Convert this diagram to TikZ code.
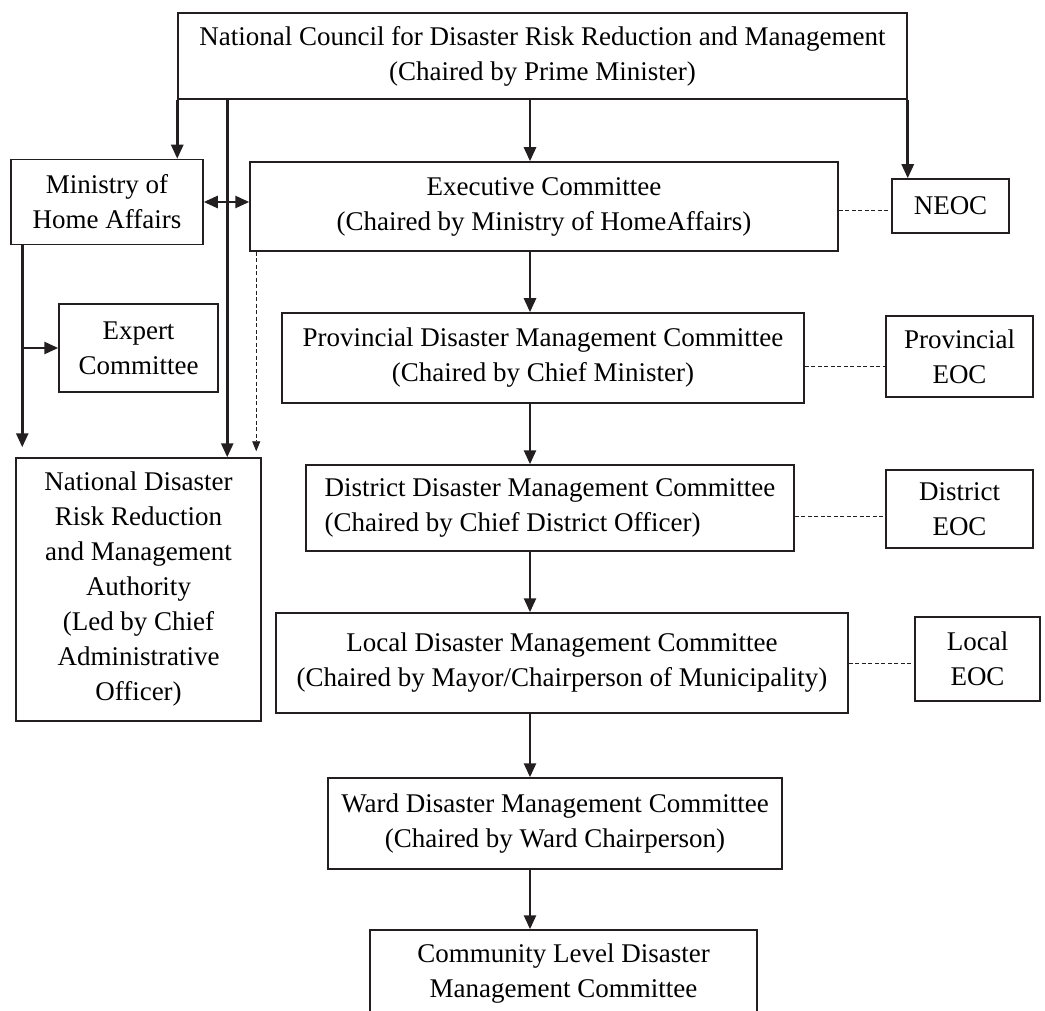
\documentclass[tikz,border=0pt]{standalone}
\usepackage{fontspec}
\setmainfont{Liberation Serif}
\usetikzlibrary{arrows.meta}

\definecolor{inkgray}{HTML}{231F20}

\begin{document}
\begin{tikzpicture}[x=1pt, y=-1pt,
	box/.style={draw=inkgray, line width=1.5pt, rectangle, inner sep=0pt, align=center, font=\fontsize{27}{35}\selectfont},
	link/.style={line width=2.6pt, color=inkgray, -{Triangle[length=14pt,width=12pt]}},
	tie/.style={line width=0.8pt, color=inkgray, dash pattern=on 4pt off 2.5pt}]

\path [use as bounding box] (0,0) rectangle (1045,1011);

% COUNCIL
\node [box, minimum width=729pt, minimum height=86pt] (council) at (542.5,56)
	{National Council for Disaster Risk Reduction and Management\\(Chaired by Prime Minister)};

% LEFT COLUMN
\node [box, minimum width=192pt, minimum height=85pt] (ministry) at (107,202)
	{Ministry of\\Home Affairs};
\node [box, minimum width=159pt, minimum height=88pt] (expert) at (138.5,348)
	{Expert\\Committee};
\node [box, minimum width=245pt, minimum height=263pt] (ndrrma) at (138.5,589.5)
	{National Disaster\\Risk Reduction\\and Management\\Authority\\(Led by Chief\\Administrative\\Officer)};

% COMMITTEES
\node [box, minimum width=588pt, minimum height=89pt] (exec) at (544,206.5)
	{Executive Committee\\(Chaired by Ministry of HomeAffairs)};
\node [box, minimum width=522pt, minimum height=90pt] (province) at (543,358)
	{Provincial Disaster Management Committee\\(Chaired by Chief Minister)};
\node [box, minimum width=488pt, minimum height=86pt, align=left] (district) at (550,508)
	{District Disaster Management Committee\\(Chaired by Chief District Officer)};
\node [box, minimum width=572pt, minimum height=100pt] (local) at (562,663)
	{Local Disaster Management Committee\\(Chaired by Mayor/Chairperson of Municipality)};
\node [box, minimum width=454pt, minimum height=91pt] (ward) at (555,823.5)
	{Ward Disaster Management Committee\\(Chaired by Ward Chairperson)};
\node [box, minimum width=387pt, minimum height=88pt] (community) at (563.5,974)
	{Community Level Disaster\\Management Committee};

% EOCS
\node [box, minimum width=117pt, minimum height=54pt] (neoc) at (950.5,206) {NEOC};
\node [box, minimum width=147pt, minimum height=81pt] (peoc) at (959.5,356.5) {Provincial\\EOC};
\node [box, minimum width=147pt, minimum height=78pt] (deoc) at (959.5,509) {District\\EOC};
\node [box, minimum width=125pt, minimum height=84pt] (leoc) at (977.5,659) {Local\\EOC};

% ARROWS
\coordinate (spine) at (530,0);
\draw [link] (council.south west) -- (council.south west |- ministry.north);
\draw [link] ([xshift=50pt]council.south west) -- ([xshift=50pt]council.south west |- ndrrma.north);
\draw [link] (council.south east) -- (council.south east |- neoc.north);
\draw [link, {Triangle[length=14pt,width=12pt]}-{Triangle[length=14pt,width=12pt]}]
	(ministry.east) -- (ministry.east -| exec.west);
\draw [link, shorten >=10pt] ([xshift=12pt]ministry.south west) -- ([xshift=12pt]ministry.south west |- ndrrma.north);
\draw [link] ([xshift=12pt]ministry.south west |- expert.west) -- (expert.west);
\draw [tie, -{Triangle[length=10pt,width=8pt]}, shorten >=6pt]
	([xshift=7pt]exec.south west) -- ([xshift=7pt]exec.south west |- ndrrma.north);

\draw [link] (spine |- council.south) -- (spine |- exec.north);
\draw [link] (spine |- exec.south) -- (spine |- province.north);
\draw [link] (spine |- province.south) -- (spine |- district.north);
\draw [link] (spine |- district.south) -- (spine |- local.north);
\draw [link] (spine |- local.south) -- (spine |- ward.north);
\draw [link] (spine |- ward.south) -- (spine |- community.north);

% DASHED TIES
\draw [tie] ([yshift=-4pt]exec.east) -- ([yshift=-4pt]exec.east -| neoc.west);
\draw [tie] ([yshift=-8pt]province.east) -- ([yshift=-8pt]province.east -| peoc.west);
\draw [tie] ([yshift=-8pt]district.east) -- ([yshift=-8pt]district.east -| deoc.west);
\draw [tie] (local.east) -- (local.east -| leoc.west);

\end{tikzpicture}
\end{document}
